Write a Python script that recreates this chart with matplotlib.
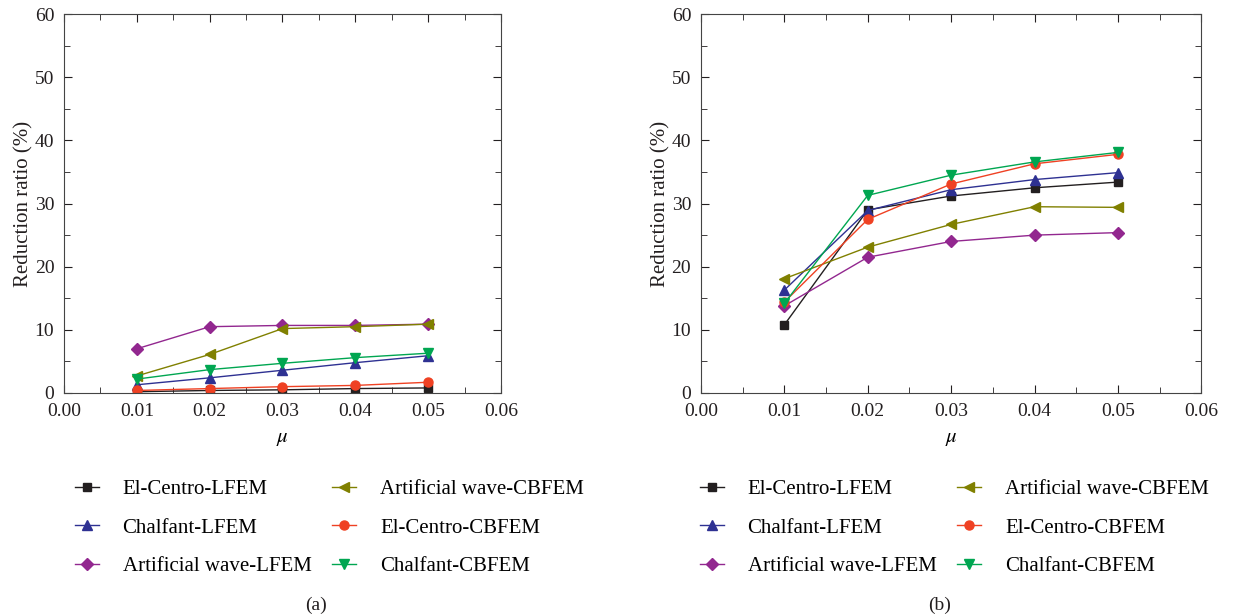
import numpy as np
import matplotlib.pyplot as plt
from matplotlib.ticker import MultipleLocator

plt.rcParams['font.family'] = ['Liberation Serif', 'DejaVu Serif']
plt.rcParams['mathtext.fontset'] = 'stix'

mu = [0.01, 0.02, 0.03, 0.04, 0.05]
labels = ['El-Centro-LFEM', 'Chalfant-LFEM', 'Artificial wave-LFEM',
          'Artificial wave-CBFEM', 'El-Centro-CBFEM', 'Chalfant-CBFEM']

# panel (a)
a_elc_lfem = [0.2, 0.4, 0.5, 0.7, 0.8]
a_cha_lfem = [1.3, 2.4, 3.6, 4.8, 5.9]
a_art_lfem = [7.0, 10.5, 10.7, 10.7, 10.9]
a_art_cbfem = [2.7, 6.1, 10.2, 10.5, 10.9]
a_elc_cbfem = [0.4, 0.7, 1.0, 1.2, 1.7]
a_cha_cbfem = [2.2, 3.7, 4.7, 5.6, 6.3]

# panel (b)
b_elc_lfem = [10.8, 29.0, 31.2, 32.5, 33.4]
b_cha_lfem = [16.3, 28.9, 32.2, 33.8, 34.9]
b_art_lfem = [13.8, 21.5, 24.0, 25.0, 25.4]
b_art_cbfem = [18.1, 23.1, 26.7, 29.5, 29.4]
b_elc_cbfem = [14.4, 27.5, 33.1, 36.3, 37.8]
b_cha_cbfem = [14.2, 31.3, 34.5, 36.6, 38.1]

colors = ['#231f20', '#2e3192', '#92278f', '#808000', '#ef4123', '#00a651']
markers = ['s', '^', 'D', '<', 'o', 'v']
msizes = [6, 7, 6, 7, 6.5, 7]

fig = plt.figure(figsize=(12.45, 6.15), dpi=100)
ax1 = fig.add_axes([0.0514, 0.361, 0.351, 0.616])
ax2 = fig.add_axes([0.563, 0.361, 0.402, 0.616])

panels = [
    (ax1, [a_elc_lfem, a_cha_lfem, a_art_lfem, a_art_cbfem, a_elc_cbfem, a_cha_cbfem],
     '(a)', 0.060, 0.254),
    (ax2, [b_elc_lfem, b_cha_lfem, b_art_lfem, b_art_cbfem, b_elc_cbfem, b_cha_cbfem],
     '(b)', 0.562, 0.755),
]

for ax, series, cap, legx, capx in panels:
    handles = []
    for i in range(6):
        h, = ax.plot(mu, series[i], color=colors[i], marker=markers[i],
                     markersize=msizes[i], linewidth=1.0, label=labels[i])
        handles.append(h)
    ax.set_xlim(0, 0.06)
    ax.set_ylim(0, 60)
    ax.xaxis.set_major_locator(MultipleLocator(0.01))
    ax.xaxis.set_minor_locator(MultipleLocator(0.005))
    ax.yaxis.set_major_locator(MultipleLocator(10))
    ax.yaxis.set_minor_locator(MultipleLocator(5))
    ax.xaxis.set_major_formatter(plt.FormatStrFormatter('%.2f'))
    ax.tick_params(which='both', direction='in', top=True, right=True,
                   labelsize=14, colors='#231f20', pad=7)
    ax.tick_params(which='major', length=6)
    ax.tick_params(which='minor', length=4)
    for sp in ax.spines.values():
        sp.set_color('#444444')
    ax.set_xlabel(r'$\mu$', fontsize=15, labelpad=7)
    ax.set_ylabel('Reduction ratio (%)', fontsize=15, color='#231f20', labelpad=1)

    fig.legend(handles=handles, ncol=2, frameon=False, fontsize=15,
               loc='upper left', bbox_to_anchor=(legx, 0.22),
               borderpad=0, borderaxespad=0,
               handlelength=1.15, handletextpad=1.15, columnspacing=1.0,
               labelspacing=0.9)
    fig.text(capx, 0.008, cap, fontsize=14, ha='center', color='#231f20')

fig.savefig('out.png', dpi=100)
